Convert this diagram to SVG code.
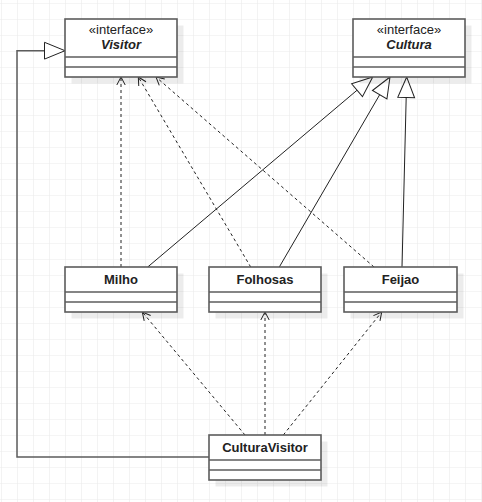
<svg xmlns="http://www.w3.org/2000/svg" width="482" height="502" viewBox="0 0 482 502">
<defs>
<pattern id="grid" x="1" y="3" width="16" height="16" patternUnits="userSpaceOnUse">
<path d="M0,0 H16 M0,0 V16" fill="none" stroke="#ebebeb" stroke-width="1.2"/>
</pattern>
<marker id="tri" markerUnits="userSpaceOnUse" viewBox="-22 -10 24 20" markerWidth="24" markerHeight="20" refX="0" refY="0" orient="auto" overflow="visible">
<path d="M0,0 L-20.5,-8.4 L-20.5,8.4 Z" fill="#fff" stroke="#222" stroke-width="1"/>
</marker>
<marker id="open" markerUnits="userSpaceOnUse" viewBox="-10 -6 12 12" markerWidth="12" markerHeight="12" refX="0" refY="0" orient="auto" overflow="visible">
<path d="M-8,-4.2 L0,0 L-8,4.2" fill="none" stroke="#222" stroke-width="1"/>
</marker>
</defs>
<style>
.box{fill:#fff;stroke:#5c5c5c;stroke-width:1.6}
.shadow{fill:#000;opacity:0.075}
.div{stroke:#5c5c5c;stroke-width:1.6}
.t{font-family:"Liberation Sans",Arial,sans-serif;font-size:13px;fill:#222;text-anchor:middle}
.b{font-weight:bold}
.i{font-style:italic}
.dash{fill:none;stroke:#222;stroke-width:1;stroke-dasharray:3 3;marker-end:url(#open)}
.gen{fill:none;stroke:#222;stroke-width:1;marker-end:url(#tri)}
</style>
<rect width="482" height="502" fill="#fff"/>
<rect width="482" height="502" fill="url(#grid)"/>

<g id="connectors">
<line class="dash" x1="121" y1="267" x2="121" y2="77"/>
<line class="dash" x1="250.7" y1="267" x2="138.3" y2="77"/>
<line class="dash" x1="374" y1="267" x2="156" y2="77"/>
<line class="gen" x1="147.7" y1="267" x2="372.7" y2="77"/>
<line class="gen" x1="279.3" y1="267" x2="390" y2="77"/>
<line class="gen" x1="402" y1="267" x2="406.7" y2="77"/>
<line class="dash" x1="245" y1="435" x2="142.3" y2="312"/>
<line class="dash" x1="265" y1="435" x2="265" y2="312"/>
<line class="dash" x1="283.3" y1="435" x2="381.7" y2="312"/>
<path d="M209,457 H17 V50.7 H65" fill="none" stroke="#5c5c5c" stroke-width="1.5" marker-end="url(#tri)"/>
</g>

<g id="Visitor">
<rect class="shadow" x="71.5" y="25.5" width="112" height="58"/>
<rect class="box" x="65" y="19" width="112" height="58"/>
<line class="div" x1="65" y1="57" x2="177" y2="57"/>
<line class="div" x1="65" y1="67" x2="177" y2="67"/>
<text class="t" x="121" y="34">«interface»</text>
<text class="t b i" x="121" y="49">Visitor</text>
</g>

<g id="Cultura">
<rect class="shadow" x="359.5" y="25.5" width="112" height="58"/>
<rect class="box" x="353" y="19" width="112" height="58"/>
<line class="div" x1="353" y1="57" x2="465" y2="57"/>
<line class="div" x1="353" y1="67" x2="465" y2="67"/>
<text class="t" x="409" y="34">«interface»</text>
<text class="t b i" x="409" y="49">Cultura</text>
</g>

<g id="Milho">
<rect class="shadow" x="71.5" y="273.5" width="112" height="45"/>
<rect class="box" x="65" y="267" width="112" height="45"/>
<line class="div" x1="65" y1="292" x2="177" y2="292"/>
<line class="div" x1="65" y1="302" x2="177" y2="302"/>
<text class="t b" x="121" y="284">Milho</text>
</g>

<g id="Folhosas">
<rect class="shadow" x="215.5" y="273.5" width="112" height="45"/>
<rect class="box" x="209" y="267" width="112" height="45"/>
<line class="div" x1="209" y1="292" x2="321" y2="292"/>
<line class="div" x1="209" y1="302" x2="321" y2="302"/>
<text class="t b" x="265" y="284">Folhosas</text>
</g>

<g id="Feijao">
<rect class="shadow" x="350.5" y="273.5" width="113" height="45"/>
<rect class="box" x="344" y="267" width="113" height="45"/>
<line class="div" x1="344" y1="292" x2="457" y2="292"/>
<line class="div" x1="344" y1="302" x2="457" y2="302"/>
<text class="t b" x="400.5" y="284">Feijao</text>
</g>

<g id="CulturaVisitor">
<rect class="shadow" x="215.5" y="441.5" width="112" height="45"/>
<rect class="box" x="209" y="435" width="112" height="45"/>
<line class="div" x1="209" y1="460" x2="321" y2="460"/>
<line class="div" x1="209" y1="470" x2="321" y2="470"/>
<text class="t b" x="265" y="452">CulturaVisitor</text>
</g>
</svg>
